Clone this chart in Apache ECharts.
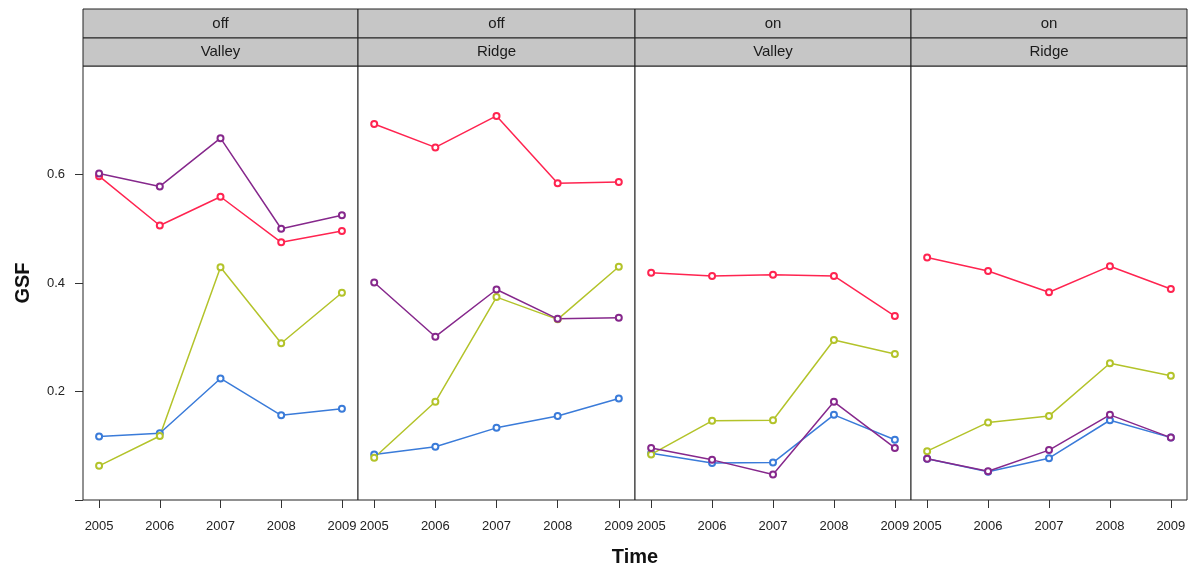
<!DOCTYPE html>
<html>
<head>
<meta charset="utf-8">
<script src="https://cdn.jsdelivr.net/npm/echarts@6/dist/echarts.min.js"></script>
<style>
  html, body { margin: 0; padding: 0; background: #fff; }
  #chart { width: 1190px; height: 569px; }
</style>
</head>
<body>
<div id="chart"></div>
<script>
// Years on the x axis and the strip labels of each panel
const years = [2005, 2006, 2007, 2008, 2009];
const stripTop = ['off', 'off', 'on', 'on'];
const stripBottom = ['Valley', 'Ridge', 'Valley', 'Ridge'];
const yTickValues = [0, 0.2, 0.4, 0.6];
const yLabelValues = [0.2, 0.4, 0.6];

// GSF per year, one array per group and panel
const offValleyRed    = [0.597, 0.506, 0.559, 0.475, 0.496];
const offValleyPurple = [0.602, 0.578, 0.667, 0.500, 0.525];
const offValleyYellow = [0.063, 0.118, 0.429, 0.289, 0.382];
const offValleyBlue   = [0.117, 0.123, 0.224, 0.156, 0.168];

const offRidgeRed     = [0.693, 0.650, 0.708, 0.584, 0.586];
const offRidgePurple  = [0.401, 0.301, 0.388, 0.334, 0.336];
const offRidgeYellow  = [0.078, 0.181, 0.374, 0.333, 0.430];
const offRidgeBlue    = [0.084, 0.098, 0.133, 0.155, 0.187];

const onValleyRed     = [0.419, 0.413, 0.415, 0.413, 0.339];
const onValleyPurple  = [0.096, 0.074, 0.047, 0.181, 0.096];
const onValleyYellow  = [0.084, 0.146, 0.147, 0.295, 0.269];
const onValleyBlue    = [0.086, 0.068, 0.069, 0.157, 0.111];

const onRidgeRed      = [0.447, 0.422, 0.383, 0.431, 0.389];
const onRidgePurple   = [0.076, 0.053, 0.092, 0.157, 0.115];
const onRidgeYellow   = [0.090, 0.143, 0.155, 0.252, 0.229];
const onRidgeBlue     = [0.076, 0.052, 0.077, 0.147, 0.115];

const panelSeries = [
  { blue: offValleyBlue, yellow: offValleyYellow, red: offValleyRed, purple: offValleyPurple },
  { blue: offRidgeBlue,  yellow: offRidgeYellow,  red: offRidgeRed,  purple: offRidgePurple },
  { blue: onValleyBlue,  yellow: onValleyYellow,  red: onValleyRed,  purple: onValleyPurple },
  { blue: onRidgeBlue,   yellow: onRidgeYellow,   red: onRidgeRed,   purple: onRidgePurple }
];

const colors = { blue: '#3a7bd9', yellow: '#b3c32a', red: '#ff2450', purple: '#86288c' };
const drawOrder = ['blue', 'yellow', 'red', 'purple'];

// Panel geometry
const panelLeft = [83, 358, 635, 911];
const panelWidth = [275, 277, 276, 276];
const panelTop = 66;
const panelHeight = 434;
const stripY = 9;
const stripH1 = 29;
const stripH2 = 28;

const FONT = 'Liberation Sans, Arial, sans-serif';

const grids = [], xAxes = [], yAxes = [], series = [], graphics = [];

panelSeries.forEach((panel, i) => {
  grids.push({
    left: panelLeft[i], top: panelTop, width: panelWidth[i], height: panelHeight,
    show: true, borderColor: '#222', borderWidth: 1, backgroundColor: '#fff'
  });
  xAxes.push({
    type: 'value', gridIndex: i, min: 2004.735, max: 2009.265,
    axisLine: { show: false },
    splitLine: { show: false },
    axisTick: { show: true, customValues: years, length: 8, inside: false,
                lineStyle: { color: '#333', width: 1 } },
    axisLabel: { show: true, customValues: years, margin: 20, color: '#222',
                 fontSize: 13, fontFamily: FONT, formatter: v => String(v) }
  });
  const yAxis = {
    type: 'value', gridIndex: i, min: 0, max: 0.8,
    axisLine: { show: false },
    splitLine: { show: false },
    axisTick: { show: false },
    axisLabel: { show: false }
  };
  if (i === 0) {
    yAxis.axisTick = { show: true, customValues: yTickValues, length: 8,
                       lineStyle: { color: '#333', width: 1 } };
    yAxis.axisLabel = { show: true, customValues: yLabelValues, margin: 18, color: '#222',
                        fontSize: 13, fontFamily: FONT, formatter: v => v.toFixed(1) };
    yAxis.name = 'GSF';
    yAxis.nameLocation = 'middle';
    yAxis.nameGap = 50;
    yAxis.nameRotate = 90;
    yAxis.nameTextStyle = { fontSize: 20, fontWeight: 'bold', color: '#111', fontFamily: FONT };
  }
  yAxes.push(yAxis);

  drawOrder.forEach(key => {
    series.push({
      name: key + ' ' + (i + 1),
      type: 'line',
      xAxisIndex: i, yAxisIndex: i,
      data: years.map((yr, k) => [yr, panel[key][k]]),
      symbol: 'emptyCircle', symbolSize: 6,
      showAllSymbol: true,
      lineStyle: { color: colors[key], width: 1.5 },
      itemStyle: { color: colors[key], borderColor: colors[key], borderWidth: 1.5 },
      emphasis: { disabled: true },
      animation: false
    });
  });

  // Strip headers above each panel
  graphics.push({
    type: 'rect', shape: { x: panelLeft[i], y: stripY, width: panelWidth[i], height: stripH1 },
    style: { fill: '#c6c6c6', stroke: '#222', lineWidth: 1 }
  });
  graphics.push({
    type: 'rect', shape: { x: panelLeft[i], y: stripY + stripH1, width: panelWidth[i], height: stripH2 },
    style: { fill: '#c6c6c6', stroke: '#222', lineWidth: 1 }
  });
  graphics.push({
    type: 'text', x: panelLeft[i] + panelWidth[i] / 2, y: stripY + stripH1 / 2,
    style: { text: stripTop[i], fill: '#1a1a1a', font: '15px ' + FONT, align: 'center', verticalAlign: 'middle' }
  });
  graphics.push({
    type: 'text', x: panelLeft[i] + panelWidth[i] / 2, y: stripY + stripH1 + stripH2 / 2,
    style: { text: stripBottom[i], fill: '#1a1a1a', font: '15px ' + FONT, align: 'center', verticalAlign: 'middle' }
  });
});

graphics.push({
  type: 'text', x: 635, y: 557,
  style: { text: 'Time', fill: '#111', font: 'bold 20px ' + FONT, align: 'center', verticalAlign: 'middle' }
});

const chart = echarts.init(document.getElementById('chart'), null, { renderer: 'canvas' });
chart.setOption({
  animation: false,
  backgroundColor: '#fff',
  grid: grids,
  xAxis: xAxes,
  yAxis: yAxes,
  series: series,
  graphic: graphics
});
</script>
</body>
</html>
